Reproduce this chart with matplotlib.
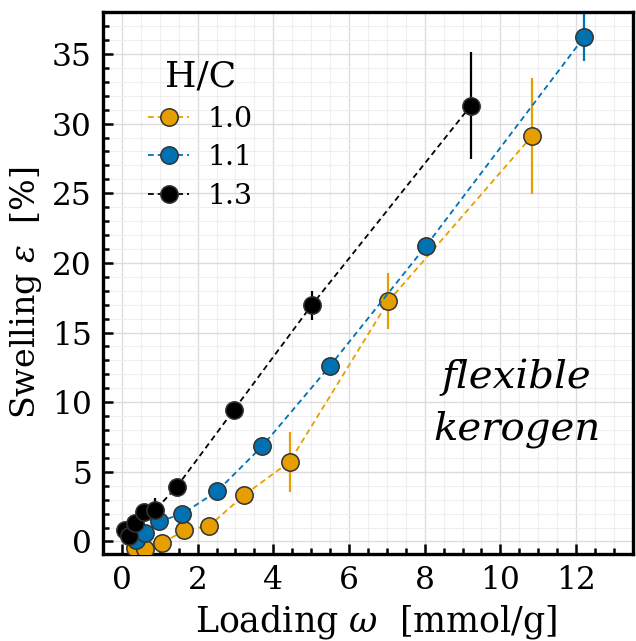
import numpy as np
import matplotlib.pyplot as plt
from matplotlib.ticker import MultipleLocator

plt.rcParams["font.family"] = "DejaVu Serif"
plt.rcParams["mathtext.fontset"] = "dejavuserif"

# swelling vs loading for three H/C ratios
hc_labels = ["1.0", "1.1", "1.3"]
colors = ["#E69F00", "#0072B2", "#000000"]

load_10 = [0.34, 0.62, 1.07, 1.65, 2.30, 3.23, 4.43, 7.04, 10.83]
swell_10 = [-0.49, -0.56, -0.13, 0.82, 1.11, 3.33, 5.72, 17.24, 29.09]
err_10 = [0, 0, 0, 0, 0, 0, 2.15, 2.0, 4.15]

load_11 = [0.36, 0.60, 0.99, 1.58, 2.52, 3.71, 5.49, 8.03, 12.22]
swell_11 = [0.11, 0.59, 1.47, 1.95, 3.62, 6.85, 12.58, 21.2, 36.24]
err_11 = [0, 0, 0, 0, 0, 0, 0, 0, 1.74]

load_13 = [0.09, 0.18, 0.34, 0.57, 0.88, 1.45, 2.96, 5.01, 9.22]
swell_13 = [0.82, 0.39, 1.35, 2.09, 2.26, 3.93, 9.45, 16.95, 31.29]
err_13 = [0, 0, 0, 0, 0.85, 0, 0, 1.04, 3.83]

series = [
    (load_10, swell_10, err_10),
    (load_11, swell_11, err_11),
    (load_13, swell_13, err_13),
]

fig = plt.figure(figsize=(6.36, 6.41), dpi=100)
ax = fig.add_axes([0.162, 0.1357, 0.833, 0.8453])

for (x, y, e), c, lab in zip(series, colors, hc_labels):
    ax.errorbar(x, y, yerr=e, fmt="none", ecolor=c, elinewidth=1.6, capsize=0, zorder=2)
    ax.plot(
        x, y,
        linestyle=(0, (3.2, 2.2)), linewidth=1.3, color=c,
        marker="o", markersize=12.5, markerfacecolor=c,
        markeredgecolor="#333333", markeredgewidth=1.1,
        label=lab, zorder=3,
    )

ax.set_xlim(-0.5, 13.5)
ax.set_ylim(-0.9, 38)
ax.xaxis.set_major_locator(MultipleLocator(2))
ax.xaxis.set_minor_locator(MultipleLocator(0.5))
ax.yaxis.set_major_locator(MultipleLocator(5))
ax.yaxis.set_minor_locator(MultipleLocator(1))

ax.grid(which="major", color="#dcdcdc", linewidth=1.0, zorder=0)
ax.grid(which="minor", color="#efefef", linewidth=0.8, zorder=0)
ax.set_axisbelow(True)

ax.tick_params(which="both", direction="in", top=False, right=False, width=1.8)
ax.tick_params(which="major", length=7, labelsize=22.5, pad=8)
ax.tick_params(which="minor", length=4)
for s in ax.spines.values():
    s.set_linewidth(2.4)

ax.set_xlabel(r"Loading $\omega$  [mmol/g]", fontsize=25)
ax.set_ylabel(r"Swelling $\varepsilon$  [%]", fontsize=24)
ax.xaxis.set_label_coords(0.516, -0.09)
ax.yaxis.set_label_coords(-0.111, 0.483)

ax.text(10.43, 11.0, "flexible", fontsize=29, style="italic",
        ha="center", va="baseline")
ax.text(10.43, 7.3, "kerogen", fontsize=29, style="italic",
        ha="center", va="baseline")

leg = ax.legend(loc="upper left", bbox_to_anchor=(0.085, 0.912), frameon=False,
                borderaxespad=0, borderpad=0,
                title="H/C", fontsize=20.5, title_fontsize=26,
                handlelength=1.45, handletextpad=0.65, labelspacing=0.41)

fig.savefig("out.png", dpi=100)
